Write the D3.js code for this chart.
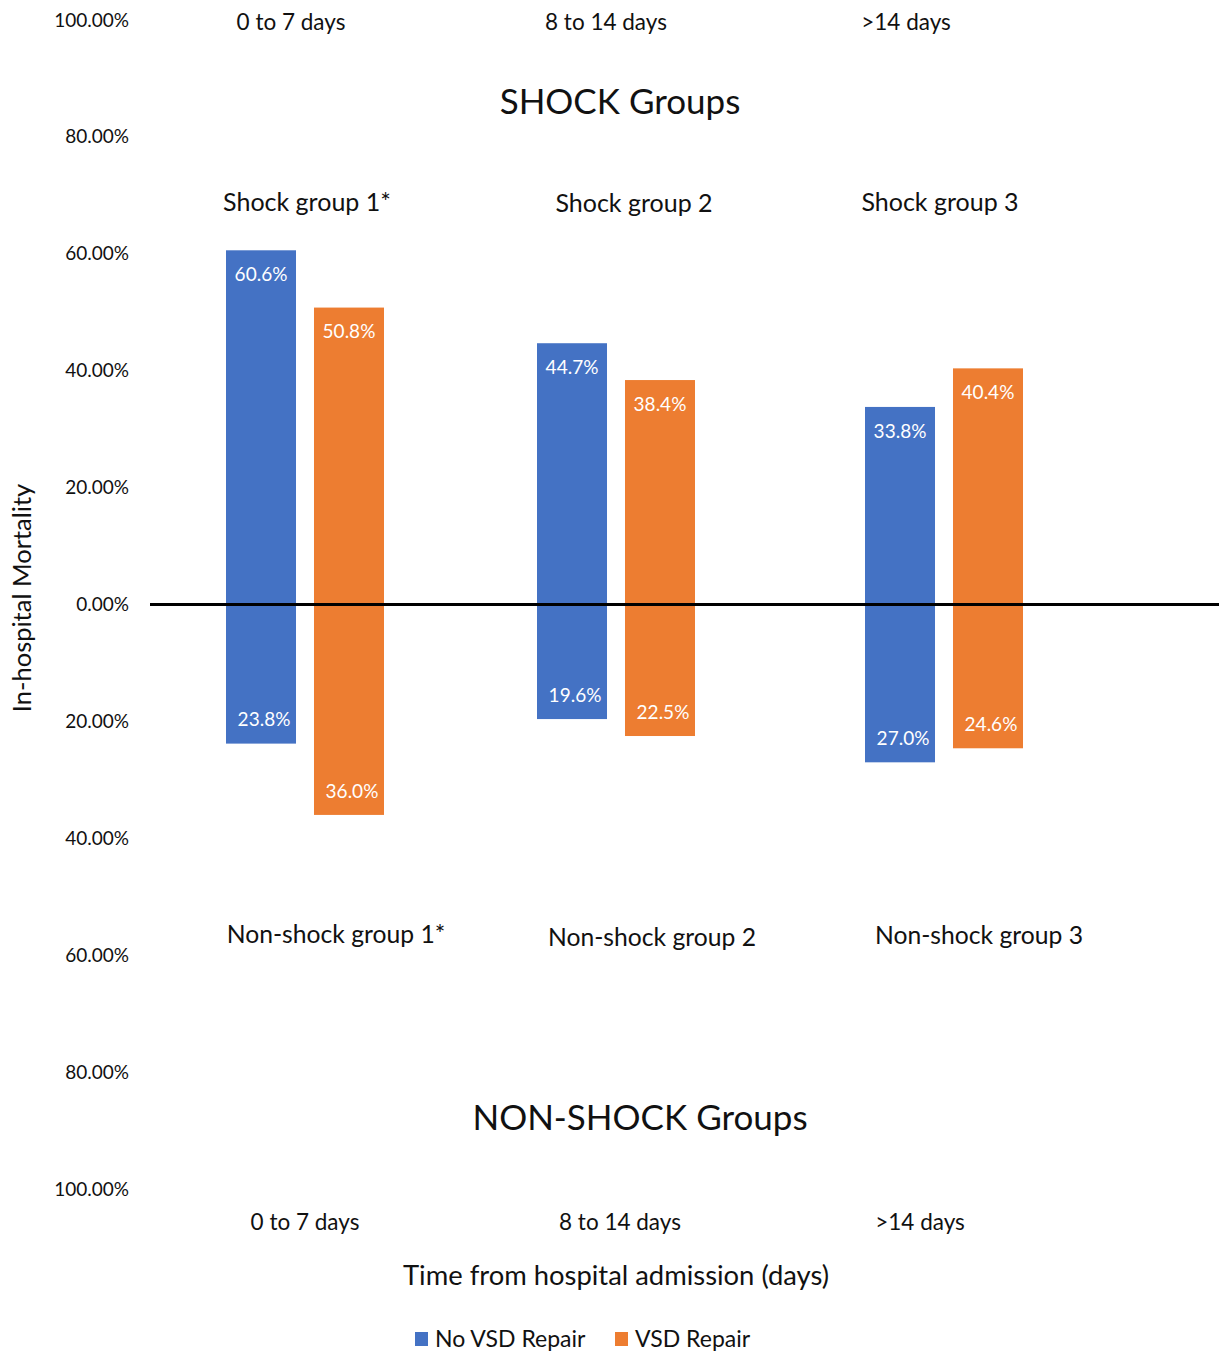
<!DOCTYPE html>
<html>
<head>
<meta charset="utf-8">
<script src="https://cdn.jsdelivr.net/npm/d3@7"></script>
<style>
  html, body { margin: 0; padding: 0; background: #fff; }
  svg { display: block; font-family: Lato, "Noto Sans", sans-serif; }
</style>
</head>
<body>
<svg id="chart" width="1219" height="1351"></svg>
<script>
// Time windows from hospital admission
const periods = ["0 to 7 days", "8 to 14 days", ">14 days"];
const series = ["No VSD Repair", "VSD Repair"];

// In-hospital mortality (%) — shock groups plotted upward
const shockNoRepair = [60.6, 44.7, 33.8];
const shockRepair = [50.8, 38.4, 40.4];
// Non-shock groups plotted downward
const nonShockNoRepair = [23.8, 19.6, 27.0];
const nonShockRepair = [36.0, 22.5, 24.6];

const shockLabels = ["Shock group 1*", "Shock group 2", "Shock group 3"];
const nonShockLabels = ["Non-shock group 1*", "Non-shock group 2", "Non-shock group 3"];
const yTicks = [100, 80, 60, 40, 20, 0, -20, -40, -60, -80, -100];

const colors = { "No VSD Repair": "#4472C4", "VSD Repair": "#ED7D31" };

const svg = d3.select("#chart");

const y = d3.scaleLinear().domain([-100, 100]).range([1189, 20]);
const xGroup = d3.scaleOrdinal().domain(periods).range([305, 616, 944]);
const xSeries = d3.scaleBand().domain(series).range([-79, 79]).paddingInner(0.2045).paddingOuter(0);

// y axis: absolute percentages on both sides of zero
const yAxis = d3.axisLeft(y).tickValues(yTicks).tickSize(0).tickPadding(0)
  .tickFormat(d => Math.abs(d).toFixed(2) + "%");
const gy = svg.append("g").attr("transform", "translate(129,0)").call(yAxis);
gy.select(".domain").remove();
gy.selectAll("text").attr("font-size", 19).attr("fill", "#111")
  .attr("font-family", "Lato, 'Noto Sans', sans-serif");

// Bars
const rows = [];
periods.forEach((p, i) => {
  rows.push({ p, s: "No VSD Repair", v: shockNoRepair[i], dir: 1 });
  rows.push({ p, s: "VSD Repair", v: shockRepair[i], dir: 1 });
  rows.push({ p, s: "No VSD Repair", v: nonShockNoRepair[i], dir: -1 });
  rows.push({ p, s: "VSD Repair", v: nonShockRepair[i], dir: -1 });
});

svg.append("g").selectAll("rect").data(rows).join("rect")
  .attr("x", d => xGroup(d.p) + xSeries(d.s))
  .attr("width", xSeries.bandwidth())
  .attr("y", d => d.dir > 0 ? y(d.v) : y(0))
  .attr("height", d => Math.abs(y(d.v * d.dir) - y(0)))
  .attr("fill", d => colors[d.s]);

// Value labels inside bar ends
svg.append("g").selectAll("text").data(rows).join("text")
  .attr("x", d => xGroup(d.p) + xSeries(d.s) + xSeries.bandwidth() / 2 + (d.dir < 0 ? 3 : 0))
  .attr("y", d => y(d.v * d.dir) + (d.dir > 0 ? 24 : -24))
  .attr("dy", "0.35em")
  .attr("text-anchor", "middle")
  .attr("font-size", 19)
  .attr("fill", "#fff")
  .text(d => d.v.toFixed(1) + "%");

// Zero line
svg.append("line")
  .attr("x1", 150).attr("x2", 1219)
  .attr("y1", y(0)).attr("y2", y(0))
  .attr("stroke", "#000").attr("stroke-width", 3);

// Text helpers
function label(x, yy, txt, size, anchor = "middle") {
  return svg.append("text").attr("x", x).attr("y", yy).attr("dy", "0.35em")
    .attr("text-anchor", anchor).attr("font-size", size).attr("fill", "#111").text(txt);
}

// Period labels, top and bottom
const topPeriodX = [291, 606, 906];
const botPeriodX = [305, 620, 920];
periods.forEach((p, i) => {
  label(topPeriodX[i], 22, p, 22.5);
  label(botPeriodX[i], 1222, p, 22.5);
});

// Section titles
label(620, 102, "SHOCK Groups", 35);
label(640, 1118, "NON-SHOCK Groups", 35);

// Group labels
const shockLabelX = [307, 634, 940];
const shockLabelY = [202, 203, 202];
shockLabels.forEach((t, i) => label(shockLabelX[i], shockLabelY[i], t, 25));
const nonShockLabelX = [336, 652, 979];
const nonShockLabelY = [934, 937, 935];
nonShockLabels.forEach((t, i) => label(nonShockLabelX[i], nonShockLabelY[i], t, 24.7));

// Axis titles
label(616, 1275, "Time from hospital admission (days)", 27.4);
svg.append("text")
  .attr("transform", `translate(22,598) rotate(-90)`)
  .attr("dy", "0.35em").attr("text-anchor", "middle")
  .attr("font-size", 25.5).attr("fill", "#111")
  .text("In-hospital Mortality");

// Legend
const legend = svg.append("g").attr("transform", "translate(415,1339)");
const legendX = [0, 200];
series.forEach((s, i) => {
  const g = legend.append("g").attr("transform", `translate(${legendX[i]},0)`);
  g.append("rect").attr("x", 0).attr("y", -7).attr("width", 13).attr("height", 14).attr("fill", colors[s]);
  g.append("text").attr("x", 20).attr("dy", "0.35em").attr("font-size", 23).attr("fill", "#111").text(s);
});
</script>
</body>
</html>
